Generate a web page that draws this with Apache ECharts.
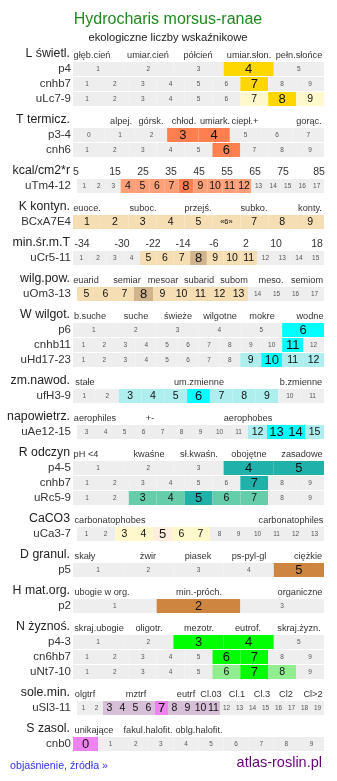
<!DOCTYPE html>
<html>
<head>
<meta charset="utf-8">
<script src="https://cdn.jsdelivr.net/npm/echarts@6/dist/echarts.min.js"></script>
<style>
  html, body { margin: 0; padding: 0; background: #fff; }
  #chart { width: 337px; height: 781px; }
</style>
</head>
<body>
<div id="chart"></div>
<script>
  var FONT = '"Liberation Sans", Arial, sans-serif'

  // naglowki skal
  var hdrL = ['głęb.cień', 'umiar.cień', 'półcień', 'umiar.słon.', 'pełn.słońce']
  var hdrT = ['alpej.', 'górsk.', 'chłod.', 'umiark.', 'ciepł.+', 'gorąc.']
  var hdrKcal = ['5', '15', '25', '35', '45', '55', '65', '75', '85']
  var hdrK = ['euoce.', 'suboc.', 'przejś.', 'subko.', 'konty.']
  var hdrMin = ['-34', '-30', '-22', '-14', '-6', '2', '10', '18']
  var hdrWilg = ['euarid', 'semiar', 'mesoar', 'subarid', 'subom', 'meso.', 'semiom']
  var hdrW = ['b.suche', 'suche', 'świeże', 'wilgotne', 'mokre', 'wodne']
  var hdrZm = ['stałe', 'um.zmienne', 'b.zmienne']
  var hdrNap = ['aerophiles', '+-', 'aerophobes']
  var hdrR = ['pH <4', 'kwaśne', 'sł.kwaśn.', 'obojętne', 'zasadowe']
  var hdrCa = ['carbonatophobes', 'carbonatophiles']
  var hdrD = ['skały', 'żwir', 'piasek', 'ps-pyl-gl', 'ciężkie']
  var hdrH = ['ubogie w org.', 'min.-próch.', 'organiczne']
  var hdrN = ['skraj.ubogie', 'oligotr.', 'mezotr.', 'eutrof.', 'skraj.żyzn.']
  var hdrSole = ['olgtrf', 'mztrf', 'eutrf', 'Cl.03', 'Cl.1', 'Cl.3', 'Cl2', 'Cl>2']
  var hdrS = ['unikające', 'fakul.halofit.', 'oblg.halofit.']

  // komorki wierszy i poziom (0 - tlo, 1 - zakres, 2 - wartosc)
  var c5 = ['1', '2', '3', '4', '5']
  var c9 = ['1', '2', '3', '4', '5', '6', '7', '8', '9']
  var c12 = ['1', '2', '3', '4', '5', '6', '7', '8', '9', '10', '11', '12']
  var lvLp4 = [0, 0, 0, 2, 0]
  var lvLcnhb7 = [0, 0, 0, 0, 0, 0, 2, 0, 0]
  var lvLuLc = [0, 0, 0, 0, 0, 0, 1, 2, 1]

  var cT8 = ['0', '1', '2', '3', '4', '5', '6', '7']
  var lvTp = [0, 0, 0, 2, 2, 0, 0, 0]
  var lvTcnh = [0, 0, 0, 0, 0, 2, 0, 0, 0]

  var cTm = ['1', '2', '3', '4', '5', '6', '7', '8', '9', '10', '11', '12', '13', '14', '15', '16', '17']
  var lvTm = [0, 0, 0, 1, 1, 1, 1, 2, 1, 1, 1, 1, 0, 0, 0, 0, 0]

  var cK = ['1', '2', '3', '4', '5', '«6»', '7', '8', '9']
  var lvK = [1, 1, 1, 1, 1, 1, 1, 1, 1]

  var cCr = ['1', '2', '3', '4', '5', '6', '7', '8', '9', '10', '11', '12', '13', '14', '15']
  var lvCr = [0, 0, 0, 0, 1, 1, 1, 2, 1, 1, 1, 0, 0, 0, 0]

  var cOm = ['5', '6', '7', '8', '9', '10', '11', '12', '13', '14', '15', '16', '17']
  var lvOm = [1, 1, 1, 2, 1, 1, 1, 1, 1, 0, 0, 0, 0]

  var c6 = ['1', '2', '3', '4', '5', '6']
  var lvWp = [0, 0, 0, 0, 0, 2]
  var lvWcnhb = [0, 0, 0, 0, 0, 0, 0, 0, 0, 0, 2, 0]
  var lvWuHd = [0, 0, 0, 0, 0, 0, 0, 0, 1, 2, 1, 1]

  var cFh = ['1', '2', '3', '4', '5', '6', '7', '8', '9', '10', '11']
  var lvFh = [0, 0, 1, 1, 1, 2, 1, 1, 1, 0, 0]

  var cAe = ['3', '4', '5', '6', '7', '8', '9', '10', '11', '12', '13', '14', '15']
  var lvAe = [0, 0, 0, 0, 0, 0, 0, 0, 0, 1, 2, 2, 1]

  var lvRp = [0, 0, 0, 2, 2]
  var lvRcnhb = [0, 0, 0, 0, 0, 0, 2, 0, 0]
  var lvRuRc = [0, 0, 1, 1, 2, 1, 1, 0, 0]

  var cCa = ['1', '2', '3', '4', '5', '6', '7', '8', '9', '10', '11', '12', '13']
  var lvCa = [0, 0, 1, 1, 2, 1, 1, 0, 0, 0, 0, 0, 0]

  var lvDp = [0, 0, 0, 0, 2]
  var c3 = ['1', '2', '3']
  var lvHp = [0, 2, 0]

  var lvNp = [0, 0, 2, 2, 0]
  var lvNcn = [0, 0, 0, 0, 0, 2, 2, 0, 0]
  var lvNuNt = [0, 0, 0, 0, 0, 1, 2, 1, 0]

  var cSl = ['1', '2', '3', '4', '5', '6', '7', '8', '9', '10', '11', '12', '13', '14', '15', '16', '17', '18', '19']
  var lvSl = [0, 0, 1, 1, 1, 1, 2, 1, 1, 1, 1, 0, 0, 0, 0, 0, 0, 0, 0]

  var cS = ['0', '1', '2', '3', '4', '5', '6', '7', '8', '9']
  var lvS = [2, 0, 0, 0, 0, 0, 0, 0, 0, 0]

  // sekcje: tytul, naglowki (x srodkow), kolory, wiersze
  var sections = [
    { title: 'L świetl.', hdr: hdrL, hx: [92, 148, 198, 249, 299], main: '#ffd700', light: '#fff8cc',
      rows: [['p4', c5, lvLp4], ['cnhb7', c9, lvLcnhb7], ['uLc7-9', c9, lvLuLc]] },
    { title: 'T termicz.', hdr: hdrT, hx: [121, 151, 184, 215, 245, 309], main: '#ff7f50', light: '#ffa07a',
      rows: [['p3-4', cT8, lvTp], ['cnh6', c9, lvTcnh]] },
    { title: 'kcal/cm2*r', hdr: hdrKcal, hx: [76, 115, 143, 171, 199, 227, 255, 283, 319], hsize: 10.5, main: '#ff7f50', light: '#ffa07a',
      rows: [['uTm4-12', cTm, lvTm, 77]] },
    { title: 'K kontyn.', hdr: hdrK, hx: [87, 143, 198, 254, 310], main: '#f5deb3', light: '#f5deb3',
      rows: [['BCxA7E4', cK, lvK]] },
    { title: 'min.śr.m.T', hdr: hdrMin, hx: [82, 122, 153, 183, 214, 246, 276, 317], hsize: 10.5, main: '#d2b48c', light: '#f5deb3',
      rows: [['uCr5-11', cCr, lvCr]] },
    { title: 'wilg.pow.', hdr: hdrWilg, hx: [86, 127, 163, 199, 234, 271, 307], main: '#d2b48c', light: '#f5deb3',
      rows: [['uOm3-13', cOm, lvOm, 77]] },
    { title: 'W wilgot.', hdr: hdrW, hx: [90, 136, 178, 220, 262, 310], main: '#00ffff', light: '#afeeee',
      rows: [['p6', c6, lvWp], ['cnhb11', c12, lvWcnhb], ['uHd17-23', c12, lvWuHd]] },
    { title: 'zm.nawod.', hdr: hdrZm, hx: [85, 199, 301], main: '#00ffff', light: '#afeeee',
      rows: [['ufH3-9', cFh, lvFh]] },
    { title: 'napowietrz.', hdr: hdrNap, hx: [95, 150, 248], main: '#00ffff', light: '#afeeee',
      rows: [['uAe12-15', cAe, lvAe, 77]] },
    { title: 'R odczyn', hdr: hdrR, hx: [86, 149, 199, 249, 302], main: '#20b2aa', light: '#66cdaa',
      rows: [['p4-5', c5, lvRp], ['cnhb7', c9, lvRcnhb], ['uRc5-9', c9, lvRuRc]] },
    { title: 'CaCO3', hdr: hdrCa, hx: [110, 291], main: '#ffeedd', light: '#fff8cc',
      rows: [['uCa3-7', cCa, lvCa, 77]] },
    { title: 'D granul.', hdr: hdrD, hx: [85, 148, 198, 249, 308], main: '#cd853f', light: '#deb887',
      rows: [['p5', c5, lvDp]] },
    { title: 'H mat.org.', hdr: hdrH, hx: [102, 199, 300], main: '#cd853f', light: '#deb887',
      rows: [['p2', c3, lvHp]] },
    { title: 'N żyznoś.', hdr: hdrN, hx: [99, 149, 199, 248, 299], main: '#00ff00', light: '#90ee90',
      rows: [['p4-3', c5, lvNp], ['cn6hb7', c9, lvNcn], ['uNt7-10', c9, lvNuNt]] },
    { title: 'sole.min.', hdr: hdrSole, hx: [85, 136, 186, 211, 237, 262, 286, 313], main: '#ee82ee', light: '#d8bfd8',
      rows: [['uSl3-11', cSl, lvSl, 77]] },
    { title: 'S zasol.', hdr: hdrS, hx: [94, 148, 199], main: '#ee82ee', light: '#d8bfd8',
      rows: [['cnb0', cS, lvS]] }
  ]

  function txt (s, x, y, size, color, align) {
    return {
      type: 'text', x: x, y: y, silent: true,
      style: { text: s, fill: color, font: size + 'px ' + FONT, align: align, verticalAlign: 'middle' }
    }
  }

  var grids = []
  var xAxes = []
  var yAxes = []
  var series = []
  var graphics = [
    txt('Hydrocharis morsus-ranae', 168, 20, 16, '#1f8a1f', 'center'),
    txt('ekologiczne liczby wskaźnikowe', 168, 38, 11.2, '#222', 'center'),
    txt('objaśnienie, źródła »', 10, 766, 10.7, '#3333ee', 'left'),
    txt('atlas-roslin.pl', 322, 763, 14.5, '#660077', 'right')
  ]

  var y = 54
  sections.forEach(function (sec) {
    graphics.push(txt(sec.title, 70, y, 12.3, '#222', 'right'))
    sec.hdr.forEach(function (h, i) {
      graphics.push(txt(h, sec.hx[i], y + 1, sec.hsize || 9.2, '#333', 'center'))
    })
    sec.rows.forEach(function (r) {
      y += 15
      var gi = grids.length
      var left = r[3] || 73
      var cells = r[1]
      var lv = r[2]
      grids.push({ left: left, top: y - 7, width: 324 - left, height: 14 })
      xAxes.push({ type: 'category', gridIndex: gi, data: cells, show: false })
      yAxes.push({
        type: 'value', gridIndex: gi, min: 0, max: 1,
        axisLine: { show: false }, axisTick: { show: false }, axisLabel: { show: false }, splitLine: { show: false },
        name: r[0], nameLocation: 'middle', nameRotate: 0, nameGap: left - 71,
        nameTextStyle: { fontSize: 11.5, color: '#333', fontFamily: FONT, align: 'right', verticalAlign: 'middle' }
      })
      series.push({
        type: 'bar', xAxisIndex: gi, yAxisIndex: gi, silent: true,
        barCategoryGap: '0%', barGap: 0,
        label: {
          show: true, position: 'inside', color: '#111', fontFamily: FONT,
          formatter: function (p) { return cells[p.dataIndex] }
        },
        data: cells.map(function (c, i) {
          var color = lv[i] === 2 ? sec.main : (lv[i] === 1 ? sec.light : '#eeeeee')
          var size = lv[i] === 2 ? 13 : (lv[i] === 1 ? 10.5 : 6.5)
          if (c.indexOf('«') >= 0) size = 7.5
          return { value: 1, itemStyle: { color: color }, label: { fontSize: size, color: lv[i] ? '#111' : '#555' } }
        })
      })
    })
    y += 21
  })

  var chart = echarts.init(document.getElementById('chart'))
  chart.setOption({
    animation: false,
    grid: grids,
    xAxis: xAxes,
    yAxis: yAxes,
    series: series,
    graphic: graphics
  })
</script>
</body>
</html>
